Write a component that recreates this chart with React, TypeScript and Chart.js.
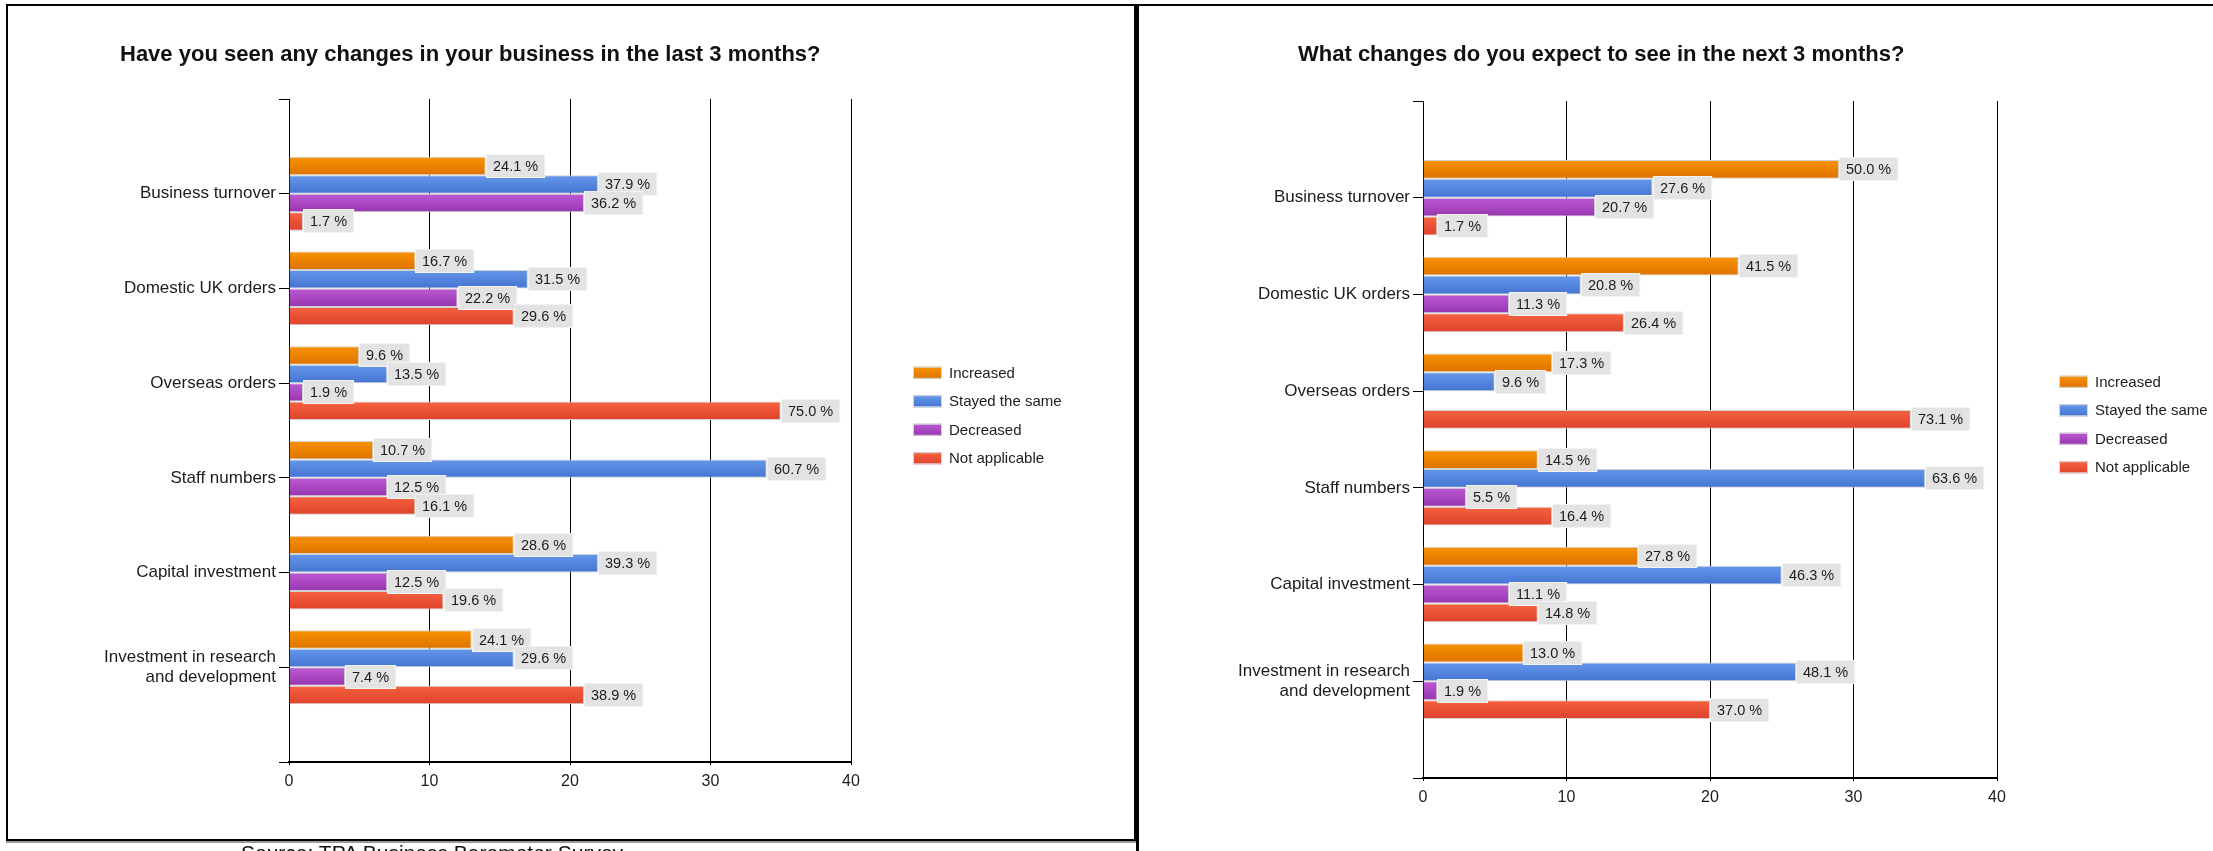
import React, { useEffect, useRef } from 'react';
import { Chart, registerables } from 'chart.js';

Chart.register(...registerables);

// ---------- data ----------
const CATEGORIES: (string | string[])[] = [
  'Business turnover',
  'Domestic UK orders',
  'Overseas orders',
  'Staff numbers',
  'Capital investment',
  ['Investment in research', 'and development'],
];
const SERIES_NAMES = ['Increased', 'Stayed the same', 'Decreased', 'Not applicable'];
const X_MIN = 0;
const X_MAX = 40;
const X_STEP = 10;

const TITLE_PAST = 'Have you seen any changes in your business in the last 3 months?';
const TITLE_NEXT = 'What changes do you expect to see in the next 3 months?';
const SOURCE_TEXT = 'Source: TPA Business Barometer Survey';

// bar lengths (responses) - last 3 months
const PAST_INCREASED = [14, 9, 5, 6, 16, 13];
const PAST_SAME = [22, 17, 7, 34, 22, 16];
const PAST_DECREASED = [21, 12, 1, 7, 7, 4];
const PAST_NA = [1, 16, 35, 9, 11, 21];
// percentage labels - last 3 months
const PAST_INCREASED_PCT = [24.1, 16.7, 9.6, 10.7, 28.6, 24.1];
const PAST_SAME_PCT = [37.9, 31.5, 13.5, 60.7, 39.3, 29.6];
const PAST_DECREASED_PCT = [36.2, 22.2, 1.9, 12.5, 12.5, 7.4];
const PAST_NA_PCT = [1.7, 29.6, 75.0, 16.1, 19.6, 38.9];

// bar lengths (responses) - next 3 months
const NEXT_INCREASED = [29, 22, 9, 8, 15, 7];
const NEXT_SAME = [16, 11, 5, 35, 25, 26];
const NEXT_DECREASED: (number | null)[] = [12, 6, null, 3, 6, 1];
const NEXT_NA = [1, 14, 34, 9, 8, 20];
// percentage labels - next 3 months
const NEXT_INCREASED_PCT = [50.0, 41.5, 17.3, 14.5, 27.8, 13.0];
const NEXT_SAME_PCT = [27.6, 20.8, 9.6, 63.6, 46.3, 48.1];
const NEXT_DECREASED_PCT: (number | null)[] = [20.7, 11.3, null, 5.5, 11.1, 1.9];
const NEXT_NA_PCT = [1.7, 26.4, 73.1, 16.4, 14.8, 37.0];

// ---------- styles ----------
const FONT = '"Liberation Sans", Arial, Helvetica, sans-serif';
const SERIES_COLORS = [
  { top: '#F99200', mid: '#F08000', bottom: '#DE7200' },
  { top: '#6597EA', mid: '#5585DE', bottom: '#4474D2' },
  { top: '#BC5AD4', mid: '#AA48C4', bottom: '#9636AE' },
  { top: '#F6623F', mid: '#EC5236', bottom: '#DE422C' },
];

const pad = <T,>(arr: T[]): (T | null)[] => [null, ...arr, null];

function makeLabelPlugin(pcts: (number | null)[][]) {
  return {
    id: 'pctLabels',
    afterDatasetsDraw(chart: any) {
      const ctx = chart.ctx as CanvasRenderingContext2D;
      ctx.save();
      ctx.font = `14.5px ${FONT}`;
      ctx.textBaseline = 'middle';
      ctx.textAlign = 'left';
      chart.data.datasets.forEach((ds: any, di: number) => {
        const meta = chart.getDatasetMeta(di);
        meta.data.forEach((el: any, idx: number) => {
          const v = ds.data[idx];
          const p = pcts[di][idx];
          if (v == null || p == null) return;
          const text = `${p.toFixed(1)} %`;
          const w = ctx.measureText(text).width + 14;
          const h = 24;
          const x = Math.round(el.x);
          const y = Math.round(el.y);
          ctx.fillStyle = '#E3E3E3';
          ctx.fillRect(x, y - h / 2, w, h);
          ctx.strokeStyle = '#F3F3F3';
          ctx.lineWidth = 1;
          ctx.strokeRect(x + 0.5, y - h / 2 + 0.5, w - 1, h - 1);
          ctx.fillStyle = '#1c1c1c';
          ctx.fillText(text, x + 7, y + 1);
        });
      });
      ctx.restore();
    },
  };
}

const legendPlugin = {
  id: 'sideLegend',
  afterDraw(chart: any) {
    const ctx = chart.ctx as CanvasRenderingContext2D;
    const area = chart.chartArea;
    const cy = (area.top + area.bottom) / 2 - 15;
    const x = area.right + 62;
    ctx.save();
    ctx.font = `15px ${FONT}`;
    ctx.textBaseline = 'middle';
    ctx.textAlign = 'left';
    chart.data.datasets.forEach((ds: any, i: number) => {
      const y = cy + (i - 1.5) * 28.5;
      const c = SERIES_COLORS[i];
      const g = ctx.createLinearGradient(0, y - 6, 0, y + 6);
      g.addColorStop(0, c.top);
      g.addColorStop(1, c.bottom);
      ctx.fillStyle = g;
      ctx.fillRect(x, y - 6, 29, 12);
      ctx.strokeStyle = '#D8D8D8';
      ctx.lineWidth = 1;
      ctx.strokeRect(x + 0.5, y - 6 + 0.5, 28, 11);
      ctx.fillStyle = '#1c1c1c';
      ctx.fillText(ds.label, x + 36, y + 1);
    });
    ctx.restore();
  },
};

function gradientFor(i: number) {
  const c = SERIES_COLORS[i];
  return (context: any) => {
    const chart = context.chart;
    if (context.dataIndex == null) return c.mid;
    const meta = chart.getDatasetMeta(context.datasetIndex);
    const el: any = meta.data[context.dataIndex];
    if (!el || typeof el.y !== 'number' || !isFinite(el.y) || !el.height) return c.mid;
    const g = chart.ctx.createLinearGradient(0, el.y - el.height / 2, 0, el.y + el.height / 2);
    g.addColorStop(0, c.top);
    g.addColorStop(1, c.bottom);
    return g;
  };
}

function buildConfig(values: (number | null)[][], pcts: (number | null)[][], padding: any) {
  const labels = ['', ...CATEGORIES, ''];
  return {
    type: 'bar' as const,
    data: {
      labels,
      datasets: values.map((v, i) => ({
        label: SERIES_NAMES[i],
        data: pad(v),
        backgroundColor: gradientFor(i),
        borderColor: '#D2D2D2',
        borderWidth: 1,
        borderSkipped: 'start',
        categoryPercentage: 0.78,
        barPercentage: 1.0,
      })),
    },
    options: {
      indexAxis: 'y' as const,
      responsive: false,
      animation: false as const,
      devicePixelRatio: 1,
      layout: { padding },
      plugins: {
        legend: { display: false },
        tooltip: { enabled: false },
        title: { display: false },
      },
      scales: {
        y: {
          type: 'category' as const,
          offset: false,
          grid: {
            display: true,
            offset: false,
            drawOnChartArea: false,
            drawTicks: true,
            tickLength: 10,
            color: '#000',
            lineWidth: 1,
          },
          border: { display: true, color: '#000', width: 1 },
          ticks: {
            autoSkip: false,
            font: { family: FONT, size: 17 },
            color: '#1c1c1c',
            padding: 3,
          },
          afterFit: (s: any) => {
            s.width = 200;
          },
        },
        x: {
          type: 'linear' as const,
          min: X_MIN,
          max: X_MAX,
          ticks: {
            stepSize: X_STEP,
            font: { family: FONT, size: 16 },
            color: '#1c1c1c',
            padding: 7,
          },
          grid: { color: '#000', lineWidth: 1, tickLength: 3, drawTicks: true },
          border: { display: true, color: '#000', width: 2 },
          afterFit: (s: any) => {
            s.height = 40;
          },
        },
      },
    },
    plugins: [makeLabelPlugin(pcts.map((p) => pad(p))), legendPlugin],
  };
}

function BarPanel(props: {
  values: (number | null)[][];
  pcts: (number | null)[][];
  width: number;
  height: number;
  padding: any;
}) {
  const ref = useRef<HTMLCanvasElement | null>(null);
  useEffect(() => {
    if (!ref.current) return;
    const chart = new Chart(ref.current, buildConfig(props.values, props.pcts, props.padding) as any);
    chart.update('none');
    return () => chart.destroy();
  }, []);
  return (
    <canvas
      ref={ref}
      width={props.width}
      height={props.height}
      style={{ width: props.width, height: props.height, display: 'block' }}
    />
  );
}

export default function App() {
  const titleStyle: React.CSSProperties = {
    position: 'absolute',
    top: 43,
    font: `bold 22px ${FONT}`,
    lineHeight: '22px',
    color: '#111',
    whiteSpace: 'nowrap',
  };
  return (
    <div
      style={{
        position: 'absolute',
        left: 0,
        top: 0,
        width: 2213,
        height: 851,
        overflow: 'hidden',
        background: '#fff',
      }}
    >
      <div style={{ position: 'absolute', left: 0, top: 0 }}>
        <BarPanel
          values={[PAST_INCREASED, PAST_SAME, PAST_DECREASED, PAST_NA]}
          pcts={[PAST_INCREASED_PCT, PAST_SAME_PCT, PAST_DECREASED_PCT, PAST_NA_PCT]}
          width={1136}
          height={851}
          padding={{ left: 89, right: 285, top: 99, bottom: 49 }}
        />
      </div>
      <div style={{ position: 'absolute', left: 1137, top: 0 }}>
        <BarPanel
          values={[NEXT_INCREASED, NEXT_SAME, NEXT_DECREASED, NEXT_NA]}
          pcts={[NEXT_INCREASED_PCT, NEXT_SAME_PCT, NEXT_DECREASED_PCT, NEXT_NA_PCT]}
          width={1076}
          height={851}
          padding={{ left: 86, right: 216, top: 101, bottom: 33 }}
        />
      </div>
      <div style={{ ...titleStyle, left: 120 }}>{TITLE_PAST}</div>
      <div style={{ ...titleStyle, left: 1298 }}>{TITLE_NEXT}</div>
      {/* panel frames */}
      <div
        style={{
          position: 'absolute',
          left: 6,
          top: 4,
          width: 1130,
          height: 837,
          boxSizing: 'border-box',
          border: '2px solid #000',
          boxShadow: '0 2px 0 #9a9a9a',
          pointerEvents: 'none',
        }}
      />
      <div
        style={{
          position: 'absolute',
          left: 1136,
          top: 4,
          width: 1100,
          height: 900,
          boxSizing: 'border-box',
          borderLeft: '3px solid #000',
          borderTop: '2px solid #000',
          pointerEvents: 'none',
        }}
      />
      <div
        style={{
          position: 'absolute',
          left: 241,
          top: 842,
          font: `21px ${FONT}`,
          lineHeight: '21px',
          color: '#111',
          whiteSpace: 'nowrap',
        }}
      >
        {SOURCE_TEXT}
      </div>
    </div>
  );
}
